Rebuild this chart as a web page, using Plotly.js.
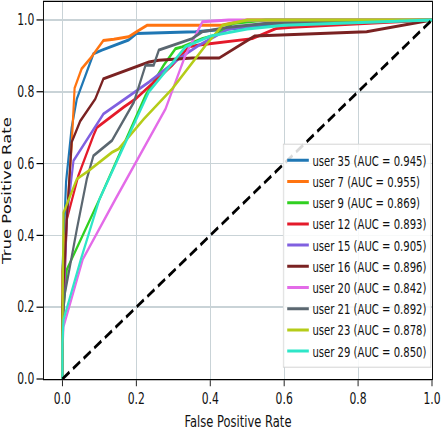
<!DOCTYPE html>
<html><head><meta charset="utf-8">
<script src="https://cdn.plot.ly/plotly-3.0.1.min.js"></script>
<style>
html,body{margin:0;padding:0;background:#fff;overflow:hidden;}
#wrap{width:442px;height:433px;overflow:hidden;position:relative;}
#chart{width:614px;height:433px;transform:scaleX(0.72);transform-origin:0 0;}
</style></head><body><div id="wrap"><div id="chart"></div></div>
<script>
// ---- data ----
const userIds = [35, 7, 9, 12, 15, 16, 20, 21, 23, 29];
const aucValues = ['0.945', '0.955', '0.869', '0.893', '0.905', '0.896', '0.842', '0.892', '0.878', '0.850'];
const lineColors = ['#1f77b4', '#ff7410', '#30d020', '#e41a2a', '#8060e0', '#7a2222', '#e36be8', '#5b6770', '#b5cc18', '#2ee6c8'];

const fpr_user35 = [0, 0, 0.01, 0.02, 0.025, 0.039, 0.084, 0.107, 0.179, 0.2, 0.36, 0.45, 0.6, 1];
const tpr_user35 = [0, 0.3, 0.55, 0.65, 0.70, 0.78, 0.906, 0.916, 0.944, 0.962, 0.967, 0.975, 0.987, 1];

const fpr_user7 = [0, 0, 0.012, 0.025, 0.033, 0.052, 0.075, 0.111, 0.139, 0.179, 0.2, 0.229, 0.43, 0.5, 1];
const tpr_user7 = [0, 0.3, 0.445, 0.65, 0.81, 0.864, 0.892, 0.943, 0.946, 0.953, 0.967, 0.985, 0.985, 1, 1];

const fpr_user9 = [0, 0, 0.012, 0.1, 0.225, 0.274, 0.306, 0.324, 0.378, 0.415, 0.46, 0.55, 1];
const tpr_user9 = [0, 0.16, 0.305, 0.5, 0.79, 0.874, 0.92, 0.925, 0.948, 0.958, 0.99, 1, 1];

const fpr_user12 = [0, 0, 0.012, 0.043, 0.084, 0.093, 0.166, 0.198, 0.297, 0.342, 0.37, 0.478, 0.514, 0.578, 0.62, 1];
const tpr_user12 = [0, 0.12, 0.445, 0.566, 0.678, 0.70, 0.757, 0.78, 0.874, 0.925, 0.93, 0.944, 0.948, 0.976, 0.98, 1];

const fpr_user15 = [0, 0, 0.012, 0.03, 0.111, 0.17, 0.234, 0.315, 0.37, 0.45, 0.55, 1];
const tpr_user15 = [0, 0.12, 0.45, 0.608, 0.738, 0.78, 0.827, 0.892, 0.93, 0.975, 0.99, 1];

const fpr_user16 = [0, 0, 0.012, 0.025, 0.048, 0.089, 0.111, 0.207, 0.234, 0.261, 0.351, 0.424, 0.52, 0.823, 1];
const tpr_user16 = [0, 0.2, 0.445, 0.659, 0.718, 0.78, 0.836, 0.874, 0.883, 0.888, 0.894, 0.894, 0.955, 0.967, 1];

const fpr_user20 = [0, 0, 0.003, 0.055, 0.143, 0.279, 0.333, 0.379, 0.45, 1];
const tpr_user20 = [0, 0.08, 0.146, 0.333, 0.5, 0.752, 0.902, 0.995, 1, 1];

const fpr_user21 = [0, 0, 0.007, 0.039, 0.066, 0.084, 0.134, 0.193, 0.225, 0.247, 0.261, 0.351, 0.378, 0.45, 0.55, 1];
const tpr_user21 = [0, 0.16, 0.24, 0.417, 0.557, 0.622, 0.664, 0.77, 0.874, 0.874, 0.916, 0.948, 0.967, 0.98, 0.99, 1];

const fpr_user23 = [0, 0, 0.003, 0.039, 0.071, 0.134, 0.152, 0.22, 0.297, 0.338, 0.388, 0.433, 0.5, 1];
const tpr_user23 = [0, 0.12, 0.463, 0.557, 0.58, 0.631, 0.641, 0.724, 0.808, 0.864, 0.93, 0.985, 1, 1];

const fpr_user29 = [0, 0, 0.003, 0.05, 0.1, 0.234, 0.333, 0.4, 0.5, 0.6, 1];
const tpr_user29 = [0, 0.1, 0.165, 0.333, 0.5, 0.8, 0.925, 0.955, 0.975, 0.985, 1];

const chanceX = [0, 1];
const chanceY = [0, 1];
const tickValues = [0, 0.2, 0.4, 0.6, 0.8, 1.0];
const tickLabels = ['0.0', '0.2', '0.4', '0.6', '0.8', '1.0'];

const fprSeries = [fpr_user35, fpr_user7, fpr_user9, fpr_user12, fpr_user15, fpr_user16, fpr_user20, fpr_user21, fpr_user23, fpr_user29];
const tprSeries = [tpr_user35, tpr_user7, tpr_user9, tpr_user12, tpr_user15, tpr_user16, tpr_user20, tpr_user21, tpr_user23, tpr_user29];

const FONT = 'DejaVu Sans, Arial, sans-serif';

const traces = userIds.map((u, i) => ({
  type: 'scatter', mode: 'lines',
  x: fprSeries[i], y: tprSeries[i],
  name: 'user ' + u + ' (AUC = ' + aucValues[i] + ')',
  legendgroup: 'g' + i,
  line: {color: lineColors[i], width: 3},
  hoverinfo: 'skip'
}));
traces.push({
  type: 'scatter', mode: 'lines', x: chanceX, y: chanceY,
  showlegend: false, hoverinfo: 'skip',
  line: {color: '#000', width: 3.2, dash: '12px,6px'}
});

const axisCommon = {
  tickvals: tickValues, ticktext: tickLabels,
  ticks: 'outside', tickwidth: 1.2, tickcolor: '#000',
  showline: true, linecolor: '#000', linewidth: 1.3, mirror: true,
  showgrid: true, gridcolor: '#c9d3d7', gridwidth: 1.5,
  zeroline: false, automargin: false, fixedrange: true,
  tickfont: {family: FONT, size: 15, color: '#111'}
};

const layout = {
  width: 614, height: 433,
  margin: {l: 61, r: 14, t: 2, b: 54},
  paper_bgcolor: '#fff', plot_bgcolor: '#fff',
  font: {family: FONT, color: '#111'},
  xaxis: Object.assign({}, axisCommon, {
    range: [-0.05, 1.0], ticklen: 6,
    title: {text: 'False Positive Rate', font: {family: FONT, size: 16, color: '#111'}, standoff: 8}
  }),
  yaxis: Object.assign({}, axisCommon, {
    range: [0, 1.05], ticklen: 9,
    title: {text: 'True Positive Rate', font: {family: FONT, size: 16.5, color: '#111'}, standoff: 4}
  }),
  legend: {
    x: 0.998, xanchor: 'right', y: 0.03, yanchor: 'bottom',
    bgcolor: 'rgba(255,255,255,0.85)', bordercolor: '#d4d4d4', borderwidth: 1,
    font: {family: FONT, size: 14, color: '#111'},
    tracegroupgap: 5, traceorder: 'normal'
  },
  showlegend: true
};

Plotly.newPlot('chart', traces, layout, {staticPlot: true, displayModeBar: false});
</script>
</body></html>
